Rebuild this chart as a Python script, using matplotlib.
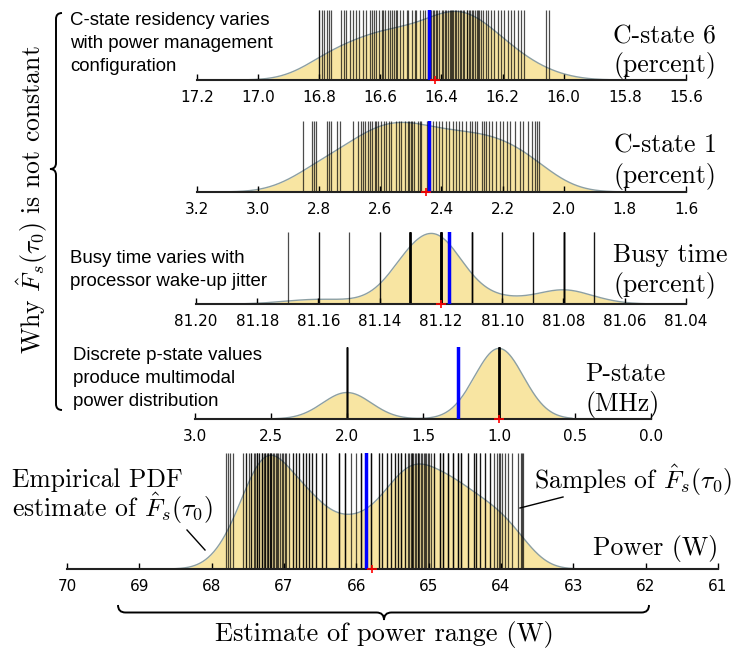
import numpy as np
import matplotlib
matplotlib.use("Agg")
import matplotlib.pyplot as plt
from matplotlib.path import Path
from matplotlib.patches import PathPatch
from matplotlib.lines import Line2D
from matplotlib.ticker import FormatStrFormatter, MultipleLocator

# =========================
# DATA
# =========================
c6_vals = [16.80, 16.80, 16.79, 16.785, 16.776, 16.767, 16.76, 16.73, 16.719, 16.711,
           16.70, 16.689, 16.68, 16.669, 16.658, 16.647, 16.634, 16.626, 16.62, 16.615,
           16.604, 16.596, 16.59, 16.585, 16.574, 16.57, 16.563, 16.556, 16.55, 16.547,
           16.536, 16.525, 16.514, 16.509, 16.498, 16.487, 16.482, 16.471, 16.46, 16.455,
           16.445, 16.435, 16.429, 16.425, 16.419, 16.415, 16.408, 16.40, 16.395, 16.39,
           16.384, 16.38, 16.373, 16.37, 16.365, 16.362, 16.355, 16.351, 16.345, 16.34,
           16.335, 16.329, 16.325, 16.318, 16.315, 16.31, 16.308, 16.30, 16.297, 16.29,
           16.285, 16.28, 16.276, 16.27, 16.265, 16.254, 16.249, 16.238, 16.227, 16.216,
           16.205, 16.195, 16.184, 16.173, 16.162, 16.151, 16.141, 16.13, 16.059, 16.049]

c1_vals = [2.852, 2.825, 2.817, 2.81, 2.776, 2.767, 2.76, 2.743, 2.733, 2.691,
           2.673, 2.665, 2.657, 2.649, 2.64, 2.635, 2.626, 2.619, 2.613, 2.608,
           2.597, 2.589, 2.581, 2.572, 2.565, 2.548, 2.54, 2.532, 2.521, 2.511,
           2.505, 2.50, 2.496, 2.489, 2.478, 2.47, 2.467, 2.449, 2.44, 2.429, 2.419, 2.408,
           2.397, 2.386, 2.375, 2.364, 2.354, 2.343, 2.332, 2.321, 2.307, 2.30,
           2.289, 2.283, 2.267, 2.262, 2.256, 2.245, 2.235, 2.221, 2.21, 2.199,
           2.186, 2.177, 2.159, 2.143, 2.132, 2.116, 2.105, 2.094,
           2.088, 2.082]

busy_vals = [81.17, 81.16, 81.15, 81.14, 81.13, 81.12, 81.11, 81.10, 81.09, 81.08, 81.07]
busy_counts = [1, 2, 1, 2, 22, 30, 5, 2, 2, 7, 2]

pstate_vals = [2.0, 1.0]
pstate_counts = [9, 24]

power_vals = [67.80, 67.78, 67.75, 67.71,
              67.56, 67.53, 67.52, 67.49, 67.46, 67.45, 67.42, 67.40, 67.38, 67.37,
              67.34, 67.31, 67.30, 67.28, 67.26, 67.23, 67.22, 67.20, 67.18, 67.15,
              67.14, 67.11, 67.09, 67.08, 67.05, 67.03, 67.02, 66.99, 66.97,
              66.93, 66.88, 66.84, 66.79, 66.74, 66.70, 66.65, 66.61,
              66.56, 66.47, 66.42, 66.24, 66.15, 66.08, 66.01,
              65.94, 65.80, 65.69, 65.64,
              65.57, 65.52, 65.47, 65.43, 65.38, 65.33,
              65.29, 65.27, 65.25, 65.23, 65.21, 65.19, 65.17, 65.15, 65.13, 65.11,
              65.09, 65.07, 65.05, 65.03, 65.01, 64.99, 64.97,
              64.92, 64.85, 64.80, 64.73, 64.66, 64.59, 64.55,
              64.45, 64.38, 64.34, 64.29, 64.22, 64.15, 64.10, 64.06, 64.03, 64.01,
              63.99, 63.94, 63.90, 63.85, 63.76, 63.73, 63.71, 63.69]
power_counts = [1, 1, 1, 1,
                1, 1, 1, 1, 1, 1, 1, 1, 2, 1,
                2, 1, 2, 1, 2, 1, 2, 2, 2, 1,
                1, 1, 1, 1, 1, 1, 1, 1, 1,
                1, 2, 2, 2, 2, 2, 2, 2,
                2, 2, 2, 3, 3, 1, 1,
                3, 3, 2, 2,
                2, 2, 2, 2, 3, 2,
                1, 1, 1, 2, 1, 1, 1, 2, 1, 1,
                1, 1, 1, 1, 1, 1, 1,
                2, 3, 3, 3, 3, 3, 3,
                2, 2, 2, 2, 2, 2, 1, 1, 1, 1,
                1, 1, 1, 1, 1, 1, 1, 1]

# mean (blue) and median (red) per panel
means = [16.44, 2.44, 81.1174, 1.273, 65.87]
medians = [16.42, 2.45, 81.12, 1.0, 65.78]

# =========================
# STYLE / LAYOUT
# =========================
W, H = 737, 653
FILL = "#f8e5a2"
EDGE = "#8c9fa3"
SERIF = "cmr10"
SANS = "Liberation Sans"
SERIF_SIZE = 18.5
SANS_SIZE = 13.4

plt.rcParams["mathtext.fontset"] = "cm"
plt.rcParams["axes.unicode_minus"] = False


def fx(x):
    return x / W


def fy(y):
    return 1 - y / H


def kde(vals, counts, bw, cut=3, n=600):
    v = np.repeat(np.asarray(vals, float), counts)
    grid = np.linspace(v.min() - cut * bw, v.max() + cut * bw, n)
    z = (grid[:, None] - v[None, :]) / bw
    dens = np.exp(-0.5 * z ** 2).sum(axis=1) / (len(v) * bw * np.sqrt(2 * np.pi))
    return grid, dens, v


def panel(fig, box, vals, counts, bw, mean, median, xlim, step, fmt):
    left, top, right, bottom = box
    ax = fig.add_axes([fx(left), fy(bottom), (right - left) / W, (bottom - top) / H])
    grid, dens, v = kde(vals, counts, bw)
    ax.fill_between(grid, 0, dens, color=FILL, lw=0, zorder=1)
    ax.plot(grid, dens, color=EDGE, lw=1.0, zorder=1.5)
    ax.vlines(v, 0, 1, transform=ax.get_xaxis_transform(), color="k",
              lw=0.9, alpha=0.7, zorder=2)
    ax.axvline(mean, color="#0000ff", lw=2.5, zorder=3)
    ax.plot([median], [0], marker="|", ms=6, mew=1.2, color="red",
            clip_on=False, zorder=4)
    ax.plot([median], [0], marker="_", ms=7, mew=1.2, color="red",
            clip_on=False, zorder=4)
    ax.set_xlim(*xlim)
    ax.set_ylim(0, dens.max() * 1.02)
    ax.xaxis.set_major_locator(MultipleLocator(step))
    ax.xaxis.set_major_formatter(FormatStrFormatter(fmt))
    ax.set_yticks([])
    for s in ["left", "right", "top"]:
        ax.spines[s].set_visible(False)
    ax.spines["bottom"].set_linewidth(1.5)
    ax.spines["bottom"].set_color("#222222")
    ax.tick_params(axis="x", direction="in", length=4, width=1, pad=7,
                   labelsize=11, top=False)
    ax.patch.set_alpha(0)
    return ax


def brace(fig, pts_px, codes, lw=1.4):
    pts = [(fx(x), fy(y)) for x, y in pts_px]
    fig.add_artist(PathPatch(Path(pts, codes), transform=fig.transFigure,
                             fill=False, lw=lw, ec="k"))


M, C, L = Path.MOVETO, Path.CURVE3, Path.LINETO
BRACE_CODES = [M, C, C, L, C, C, C, C, L, C, C]


def brace_h(fig, x0, x1, xm, y0, depth):
    r = depth / 2
    pts = [(x0, y0), (x0, y0 + r), (x0 + r, y0 + r),
           (xm - r, y0 + r), (xm, y0 + r), (xm, y0 + depth),
           (xm, y0 + r), (xm + r, y0 + r),
           (x1 - r, y0 + r), (x1, y0 + r), (x1, y0)]
    brace(fig, pts, BRACE_CODES)


def brace_v(fig, y0, y1, ym, x0, depth):
    r = depth / 2
    pts = [(x0, y0), (x0 - r, y0), (x0 - r, y0 + r),
           (x0 - r, ym - r), (x0 - r, ym), (x0 - depth, ym),
           (x0 - r, ym), (x0 - r, ym + r),
           (x0 - r, y1 - r), (x0 - r, y1), (x0, y1)]
    brace(fig, pts, BRACE_CODES)


# =========================
# FIGURE
# =========================
fig = plt.figure(figsize=(W / 100, H / 100), dpi=100)

panel(fig, (197, 10, 686, 80), c6_vals, 1, 0.088, means[0], medians[0],
      (17.2, 15.6), 0.2, "%.1f")
panel(fig, (197, 121, 686, 192), c1_vals, 1, 0.095, means[1], medians[1],
      (3.2, 1.6), 0.2, "%.1f")
panel(fig, (196, 232, 686, 304), busy_vals, busy_counts, 0.0075, means[2], medians[2],
      (81.20, 81.04), 0.02, "%.2f")
panel(fig, (195, 347, 651, 419), pstate_vals, pstate_counts, 0.16, means[3], medians[3],
      (3.0, 0.0), 0.5, "%.1f")
panel(fig, (67, 453, 718, 569), power_vals, power_counts, 0.27, means[4], medians[4],
      (70, 61), 1, "%d")

# side labels (serif)
side = [(613, 43, "C-state 6"), (613, 72, "(percent)"),
        (614, 153, "C-state 1"), (614, 183, "(percent)"),
        (613, 262, "Busy time"), (613, 292, "(percent)"),
        (585, 381, "P-state"), (585, 411, "(MHz)"),
        (593, 555, "Power (W)")]
for x, y, s in side:
    fig.text(fx(x), fy(y), s, family=SERIF, fontsize=SERIF_SIZE, ha="left", va="baseline")

# explanations (sans)
notes = [(70, 12, "C-state residency varies\nwith power management\nconfiguration"),
         (70, 250, "Busy time varies with\nprocessor wake-up jitter"),
         (73, 347, "Discrete p-state values\nproduce multimodal\npower distribution")]
for x, y, s in notes:
    fig.text(fx(x), fy(y), s, family=SANS, fontsize=SANS_SIZE, ha="left", va="top",
             linespacing=1.48)

# power panel callouts
fig.text(fx(12), fy(487), "Empirical PDF", family=SERIF, fontsize=SERIF_SIZE, va="baseline")
fig.text(fx(12), fy(517), r"estimate of $\hat{F}_s(\tau_0)$", family=SERIF,
         fontsize=SERIF_SIZE, va="baseline")
fig.add_artist(Line2D([fx(187), fx(205)], [fy(530), fy(550)], color="k", lw=1))
fig.text(fx(534), fy(489), r"Samples of $\hat{F}_s(\tau_0)$", family=SERIF,
         fontsize=SERIF_SIZE, va="baseline")
fig.add_artist(Line2D([fx(563), fx(520)], [fy(497), fy(508)], color="k", lw=1))

# braces
brace_v(fig, 13, 410, 169, 62, 12)
fig.text(fx(32), fy(200), r"Why $\hat{F}_s(\tau_0)$ is not constant", family=SERIF,
         fontsize=SERIF_SIZE, rotation=90, ha="center", va="center")
brace_h(fig, 118, 649, 384, 605, 15)
fig.text(fx(384), fy(641), "Estimate of power range (W)", family=SERIF,
         fontsize=19, ha="center", va="baseline")

fig.savefig("out.png", dpi=100)
